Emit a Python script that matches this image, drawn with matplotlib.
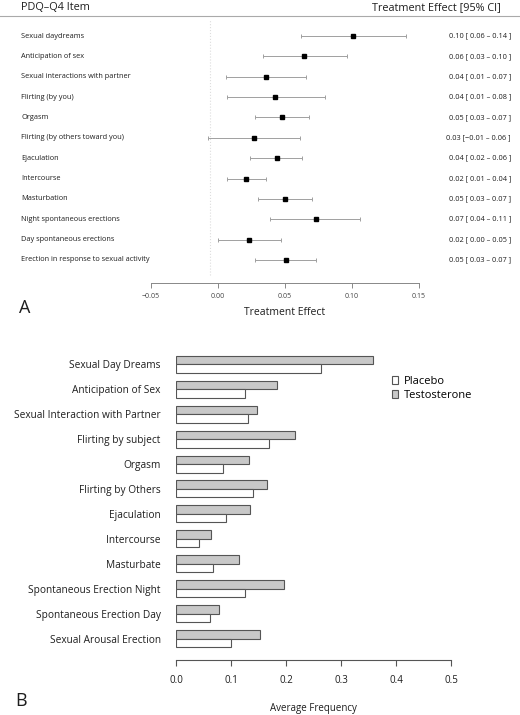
#!/usr/bin/env python3
"""pdq_figure.py

Two panel figure for the PDQ-Q4 items:

* A - forest plot of the treatment effect with 95% CI per item.
* B - average frequency per item for placebo and testosterone arms.
"""

import matplotlib

matplotlib.use("Agg")

import matplotlib.pyplot as plt
from matplotlib.lines import Line2D
from matplotlib.patches import Patch
from matplotlib.transforms import blended_transform_factory

# --------------------------------------------------------------------------- #
# Data
# --------------------------------------------------------------------------- #
ITEMS_A = [
  "Sexual daydreams",
  "Anticipation of sex",
  "Sexual interactions with partner",
  "Flirting (by you)",
  "Orgasm",
  "Flirting (by others toward you)",
  "Ejaculation",
  "Intercourse",
  "Masturbation",
  "Night spontaneous erections",
  "Day spontaneous erections",
  "Erection in response to sexual activity",
]
EFFECT = [0.101, 0.064, 0.036, 0.043, 0.048, 0.027, 0.044, 0.021, 0.050, 0.073, 0.023, 0.051]
CI_LOW = [0.062, 0.034, 0.006, 0.007, 0.028, -0.007, 0.024, 0.007, 0.030, 0.039, 0.000, 0.028]
CI_HIGH = [0.140, 0.096, 0.066, 0.080, 0.068, 0.061, 0.063, 0.036, 0.070, 0.106, 0.047, 0.073]
TICKS_A = [-0.05, 0.00, 0.05, 0.10, 0.15]
REF_LINE = -0.006

ITEMS_B = [
  "Sexual Day Dreams",
  "Anticipation of Sex",
  "Sexual Interaction with Partner",
  "Flirting by subject",
  "Orgasm",
  "Flirting by Others",
  "Ejaculation",
  "Intercourse",
  "Masturbate",
  "Spontaneous Erection Night",
  "Spontaneous Erection Day",
  "Sexual Arousal Erection",
]
PLACEBO = [0.264, 0.125, 0.130, 0.169, 0.086, 0.140, 0.090, 0.041, 0.067, 0.125, 0.062, 0.100]
TESTOSTERONE = [0.359, 0.184, 0.148, 0.216, 0.132, 0.166, 0.135, 0.064, 0.115, 0.197, 0.078, 0.152]
TICKS_B = [0.0, 0.1, 0.2, 0.3, 0.4, 0.5]

# --------------------------------------------------------------------------- #
# Layout constants (pixels)
# --------------------------------------------------------------------------- #
FIG_W, FIG_H, DPI = 520, 715, 100
TEXT = "#1e1e1e"
GREY = "#555555"


def _axes_px(fig, left, top, right, bottom):
  """Adds axes given pixel edges measured from the top-left corner."""
  return fig.add_axes([
    left / FIG_W,
    1 - bottom / FIG_H,
    (right - left) / FIG_W,
    (bottom - top) / FIG_H,
  ])


def _ci_label(est: float, lo: float, hi: float) -> str:
  """Formats 'est [ lo – hi ]' with a real minus sign."""
  text = f"{est:.2f} [{lo: .2f} \u2013 {hi:.2f} ]"
  return text.replace("-", "\u2212")


# --------------------------------------------------------------------------- #
# Panel A
# --------------------------------------------------------------------------- #
def _panel_a(fig) -> None:
  ax = _axes_px(fig, 150.7, 20, 419, 283)
  rows = list(range(len(ITEMS_A)))
  pitch = 20.36
  ax.set_xlim(TICKS_A[0], TICKS_A[-1])
  ax.set_ylim((283 - 36) / pitch, (20 - 36) / pitch)

  ax.axvline(REF_LINE, ymin=0.03, ymax=1.0, color="#dddddd", lw=0.8, ls=":")

  xerr = [
    [e - lo for e, lo in zip(EFFECT, CI_LOW)],
    [hi - e for e, hi in zip(EFFECT, CI_HIGH)],
  ]
  ax.errorbar(
    EFFECT, rows, xerr=xerr, fmt="s", ms=3.2, mfc="black", mec="black",
    ecolor="#a0a0a0", elinewidth=0.7, capsize=1.6, capthick=0.7,
  )

  for side in ("top", "left", "right"):
    ax.spines[side].set_visible(False)
  ax.spines["bottom"].set_color("#888888")
  ax.spines["bottom"].set_linewidth(0.7)
  ax.set_yticks([])
  ax.set_xticks(TICKS_A)
  ax.set_xticklabels([f"{t:.2f}".replace("-", "\u2212") for t in TICKS_A])
  ax.tick_params(axis="x", length=3.5, width=0.7, color="#888888",
                 labelsize=5, labelcolor="#444444", pad=3.5)
  ax.set_xlabel("Treatment Effect", fontsize=7.5, color=TEXT, labelpad=5.5)

  trans = blended_transform_factory(fig.transFigure, ax.transData)
  for i, name in enumerate(ITEMS_A):
    ax.text(21 / FIG_W, i, name, transform=trans, fontsize=5.3,
            color=TEXT, va="center", ha="left")
    ax.text(511 / FIG_W, i, _ci_label(EFFECT[i], CI_LOW[i], CI_HIGH[i]),
            transform=trans, fontsize=5.3, color=TEXT, va="center", ha="right")

  fig.text(21 / FIG_W, 1 - 8 / FIG_H, "PDQ\u2013Q4 Item", fontsize=7.8,
           color=TEXT, va="center", ha="left")
  fig.text(501 / FIG_W, 1 - 8 / FIG_H, "Treatment Effect [95% CI]",
           fontsize=7.8, color=TEXT, va="center", ha="right")
  fig.add_artist(Line2D([0, 1], [1 - 15.5 / FIG_H] * 2,
                        transform=fig.transFigure, color="#aaaaaa", lw=0.8))
  fig.text(25 / FIG_W, 1 - 308 / FIG_H, "A", fontsize=13, color=TEXT,
           va="center", ha="center")


# --------------------------------------------------------------------------- #
# Panel B
# --------------------------------------------------------------------------- #
def _panel_b(fig) -> None:
  ax = _axes_px(fig, 176, 345, 451, 660)
  pitch = 24.93
  first = 364.3
  rows = list(range(len(ITEMS_B)))
  h = 8.5 / pitch
  ax.set_xlim(TICKS_B[0], TICKS_B[-1])
  ax.set_ylim((660 - first) / pitch, (345 - first) / pitch)

  ax.barh([r - h / 2 for r in rows], TESTOSTERONE, height=h,
          color="#c8c8c8", edgecolor=GREY, linewidth=0.8)
  ax.barh([r + h / 2 for r in rows], PLACEBO, height=h,
          color="white", edgecolor=GREY, linewidth=0.8)

  for side in ("top", "left", "right"):
    ax.spines[side].set_visible(False)
  ax.spines["bottom"].set_color(GREY)
  ax.spines["bottom"].set_linewidth(0.8)
  ax.set_xticks(TICKS_B)
  ax.set_xticklabels([f"{t:.1f}" for t in TICKS_B])
  ax.tick_params(axis="x", length=4.5, width=0.8, color=GREY,
                 labelsize=7, labelcolor=TEXT, pad=6)
  ax.set_yticks(rows)
  ax.set_yticklabels(ITEMS_B)
  ax.tick_params(axis="y", length=0, labelsize=7.3, labelcolor=TEXT, pad=11)
  ax.set_xlabel("Average Frequency", fontsize=7, color=TEXT, labelpad=12.5)

  handles = [
    Patch(facecolor="white", edgecolor=GREY, linewidth=0.8, label="Placebo"),
    Patch(facecolor="#c8c8c8", edgecolor=GREY, linewidth=0.8,
          label="Testosterone"),
  ]
  ax.legend(
    handles=handles, loc="upper left", frameon=False, fontsize=8,
    bbox_to_anchor=(386 / FIG_W, 1 - 370 / FIG_H),
    bbox_transform=fig.transFigure, handlelength=0.55, handleheight=0.85,
    handletextpad=0.6, labelspacing=0.25, borderpad=0,
  )
  fig.text(21 / FIG_W, 1 - 701 / FIG_H, "B", fontsize=13, color=TEXT,
           va="center", ha="center")


def main() -> None:
  plt.rcParams["font.family"] = ["Open Sans", "DejaVu Sans"]
  fig = plt.figure(figsize=(FIG_W / DPI, FIG_H / DPI), dpi=DPI)
  _panel_a(fig)
  _panel_b(fig)
  fig.savefig("out.png", dpi=DPI, facecolor="white")


if __name__ == "__main__":
  main()
